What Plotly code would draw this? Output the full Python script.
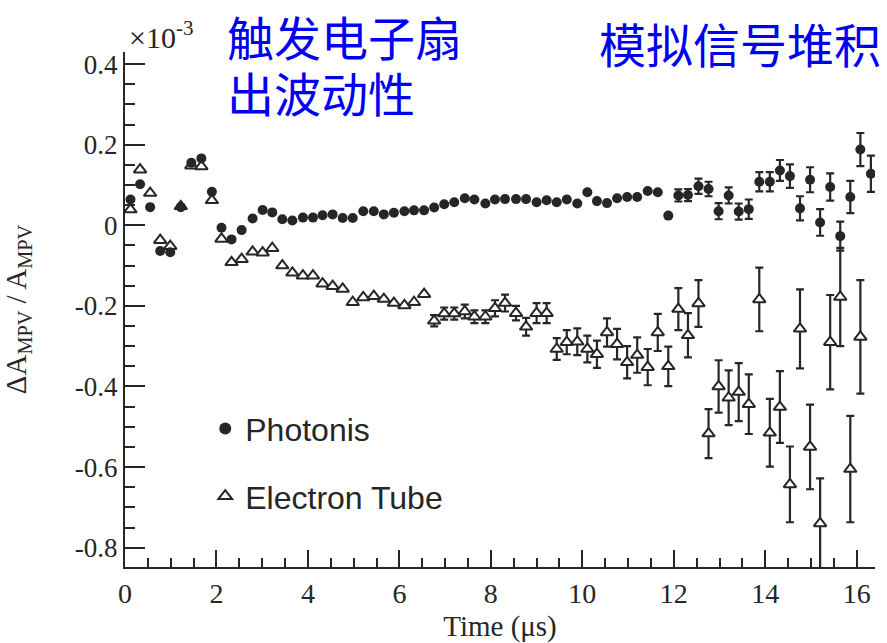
import plotly.graph_objects as go

# Time after trigger (microseconds), shared by both tubes
time_us = [
    0.12, 0.33, 0.55, 0.77, 0.99, 1.22, 1.45, 1.67, 1.90, 2.11,
    2.33, 2.55, 2.79, 3.01, 3.22, 3.44, 3.66, 3.89, 4.11, 4.32,
    4.54, 4.76, 4.98, 5.21, 5.44, 5.66, 5.88, 6.11, 6.32, 6.54,
    6.76, 6.98, 7.20, 7.43, 7.64, 7.88, 8.09, 8.31, 8.55, 8.77,
    9.00, 9.22, 9.44, 9.66, 9.89, 10.11, 10.32, 10.54, 10.76, 10.98,
    11.20, 11.43, 11.65, 11.88, 12.10, 12.31, 12.54, 12.76, 12.98, 13.20,
    13.42, 13.64, 13.87, 14.10, 14.32, 14.54, 14.76, 14.98, 15.20, 15.42,
    15.64, 15.86, 16.08, 16.31,
]

# Relative MPV shift (x10^-3), Photonis tube
photonis = [
    0.064, 0.102, 0.045, -0.064, -0.067, 0.045, 0.155, 0.166, 0.083, -0.006,
    -0.035, -0.012, 0.017, 0.038, 0.032, 0.015, 0.012, 0.019, 0.019, 0.025,
    0.027, 0.018, 0.018, 0.035, 0.035, 0.027, 0.031, 0.035, 0.037, 0.037,
    0.044, 0.052, 0.057, 0.067, 0.064, 0.054, 0.064, 0.065, 0.065, 0.065,
    0.057, 0.062, 0.057, 0.064, 0.054, 0.082, 0.060, 0.055, 0.067, 0.070,
    0.070, 0.085, 0.082, 0.024, 0.074, 0.075, 0.097, 0.090, 0.035, 0.074,
    0.034, 0.040, 0.108, 0.108, 0.136, 0.122, 0.042, 0.113, 0.007, 0.095,
    -0.027, 0.070, 0.188, 0.128,
]
photonis_err = [0.0] * 54 + [
    0.015, 0.015, 0.019, 0.018, 0.020, 0.020, 0.020, 0.024, 0.024, 0.024,
    0.026, 0.029, 0.030, 0.031, 0.033, 0.034, 0.036, 0.040, 0.041, 0.045,
]

# Relative MPV shift (x10^-3), Electron Tube
electron_tube = [
    0.039, 0.138, 0.080, -0.037, -0.052, 0.047, 0.148, 0.146, 0.062, -0.034,
    -0.092, -0.084, -0.066, -0.068, -0.057, -0.100, -0.118, -0.125, -0.125, -0.145,
    -0.151, -0.158, -0.191, -0.179, -0.176, -0.183, -0.193, -0.199, -0.191, -0.171,
    -0.237, -0.219, -0.219, -0.214, -0.227, -0.227, -0.206, -0.193, -0.218, -0.252,
    -0.218, -0.218, -0.307, -0.290, -0.289, -0.307, -0.320, -0.266, -0.295, -0.340,
    -0.322, -0.352, -0.266, -0.350, -0.208, -0.273, -0.194, -0.517, -0.400, -0.428,
    -0.414, -0.444, -0.184, -0.515, -0.451, -0.643, -0.257, -0.550, -0.740, -0.290,
    -0.178, -0.605, -0.277,
]
electron_tube_err = [0.0] * 30 + [
    0.014, 0.015, 0.015, 0.017, 0.016, 0.016, 0.020, 0.021, 0.018, 0.022,
    0.025, 0.025, 0.027, 0.030, 0.033, 0.033, 0.034, 0.035, 0.038, 0.040,
    0.044, 0.045, 0.046, 0.049, 0.052, 0.055, 0.058, 0.061, 0.065, 0.068,
    0.072, 0.074, 0.079, 0.084, 0.089, 0.094, 0.098, 0.105, 0.112, 0.117,
    0.122, 0.132, 0.141,
]

y_tickvals = [-0.8, -0.6, -0.4, -0.2, 0.0, 0.2, 0.4]
y_ticktext = ["-0.8", "-0.6", "-0.4", "-0.2", "0", "0.2", "0.4"]
x_tickvals = [0, 2, 4, 6, 8, 10, 12, 14, 16]
x_ticktext = ["0", "2", "4", "6", "8", "10", "12", "14", "16"]

INK = "#262626"
SERIF = "Liberation Serif, Times New Roman, serif"
SANS = "Liberation Sans, Arial, sans-serif"
CJK = "Noto Sans CJK SC"
BLUE = "#0000f0"

fig = go.Figure()

fig.add_trace(go.Scatter(
    x=time_us[:len(electron_tube)], y=electron_tube,
    mode="markers", name="Electron Tube", legendgroup="et", legendrank=2,
    marker=dict(symbol="triangle-up", size=11, color="white",
                line=dict(color=INK, width=2)),
    error_y=dict(type="data", array=electron_tube_err, visible=True,
                 color=INK, thickness=2.2, width=4),
))

fig.add_trace(go.Scatter(
    x=time_us, y=photonis,
    mode="markers", name="Photonis", legendgroup="ph", legendrank=1,
    marker=dict(symbol="circle", size=10, color=INK, line=dict(width=0)),
    error_y=dict(type="data", array=photonis_err, visible=True,
                 color=INK, thickness=2.2, width=4),
))

fig.update_layout(
    width=887, height=643,
    margin=dict(l=125, r=12, t=52, b=76),
    paper_bgcolor="white", plot_bgcolor="white",
    font=dict(family=SERIF, color=INK),
    showlegend=True,
    legend=dict(
        x=0.107, y=0.322, xanchor="left", yanchor="top",
        traceorder="grouped", tracegroupgap=23,
        font=dict(family=SANS, size=32, color=INK),
        bgcolor="rgba(0,0,0,0)", itemsizing="constant",
    ),
    xaxis=dict(
        range=[0, 16.4], showgrid=False, zeroline=False, automargin=False,
        showline=True, linecolor=INK, linewidth=2,
        tickmode="array", tickvals=x_tickvals, ticktext=x_ticktext,
        ticks="inside", ticklen=17, tickwidth=2, tickcolor=INK,
        minor=dict(dtick=0.5, tick0=0, ticks="inside", ticklen=9,
                   tickwidth=2, tickcolor=INK, showgrid=False),
        tickfont=dict(family=SERIF, size=28, color=INK),
        title=dict(text="Time (μs)", font=dict(family=SERIF, size=29, color=INK),
                   standoff=15),
    ),
    yaxis=dict(
        range=[-0.848, 0.43], showgrid=False, zeroline=False, automargin=False,
        showline=True, linecolor=INK, linewidth=2,
        tickmode="array", tickvals=y_tickvals, ticktext=y_ticktext,
        ticks="inside", ticklen=20, tickwidth=2, tickcolor=INK,
        minor=dict(dtick=0.05, tick0=0, ticks="inside", ticklen=10,
                   tickwidth=2, tickcolor=INK, showgrid=False),
        tickfont=dict(family=SERIF, size=27, color=INK),
        title=dict(text="ΔA<sub>MPV</sub> / A<sub>MPV</sub>",
                   font=dict(family=SERIF, size=29, color=INK), standoff=40),
    ),
)

fig.add_annotation(
    xref="paper", yref="paper", x=0.003, y=1.033, xanchor="left", yanchor="middle",
    text="×10<sup>-3</sup>", showarrow=False,
    font=dict(family=SERIF, size=30, color=INK),
)
fig.add_annotation(
    xref="paper", yref="paper", x=0.1333, y=1.033, xanchor="left", yanchor="middle",
    text="触发电子扇", showarrow=False, font=dict(family=CJK, size=47, color=BLUE),
)
fig.add_annotation(
    xref="paper", yref="paper", x=0.1333, y=0.924, xanchor="left", yanchor="middle",
    text="出波动性", showarrow=False, font=dict(family=CJK, size=47, color=BLUE),
)
fig.add_annotation(
    xref="paper", yref="paper", x=0.629, y=1.019, xanchor="left", yanchor="middle",
    text="模拟信号堆积", showarrow=False, font=dict(family=CJK, size=47, color=BLUE),
)

fig.write_html("out.html")
